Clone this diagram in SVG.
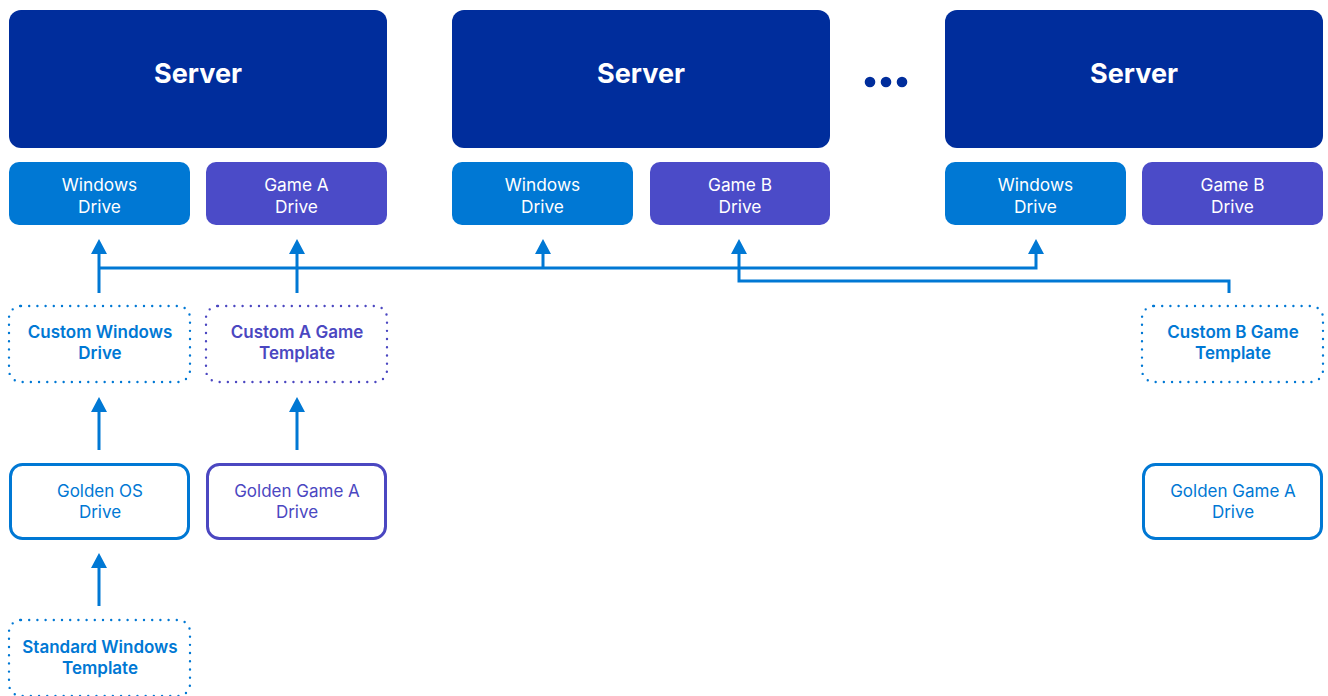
<svg xmlns="http://www.w3.org/2000/svg" width="1328" height="696" viewBox="0 0 1328 696">
<style>
.srv{fill:#002D9C}
.win{fill:#0078D4}
.game{fill:#4B4BC8}
.st{font-family:Inter,"Noto Sans","Liberation Sans",sans-serif;text-anchor:middle}
.srvt{font-size:27px;font-weight:700;fill:#fff}
.drvt{font-size:17.3px;font-weight:400;fill:#fff}
.dotb{fill:none;stroke-width:2.4;stroke-dasharray:0 8.2;stroke-linecap:round}
.solb{fill:#fff;stroke-width:3}
.bl{stroke:#0078D4}
.pu{stroke:#4B47C1}
.tbl{fill:#0078D4}
.tpu{fill:#4B47C1}
.sb{font-size:17px;font-weight:600}
.rg{font-size:17px;font-weight:400}
.con{fill:none;stroke:#0078D4;stroke-width:3}
</style>
<defs>
<polygon id="tri" points="0,0 -8,15 8,15" fill="#0078D4"/>
</defs>

<g id="server1"><rect class="srv" x="9" y="10" width="378" height="138" rx="12"/><text class="st srvt" x="198" y="83">Server</text></g>
<g id="server2"><rect class="srv" x="452" y="10" width="378" height="138" rx="12"/><text class="st srvt" x="641" y="83">Server</text></g>
<g id="server3"><rect class="srv" x="945" y="10" width="378" height="138" rx="12"/><text class="st srvt" x="1134" y="83">Server</text></g>
<g id="ellipsis" fill="#002D9C"><circle cx="870" cy="82" r="5.3"/><circle cx="886" cy="82" r="5.3"/><circle cx="902" cy="82" r="5.3"/></g>

<g id="win1"><rect class="win" x="9" y="162" width="181" height="63" rx="10"/><text class="st drvt" x="99.5" y="191">Windows</text><text class="st drvt" x="99.5" y="213">Drive</text></g>
<g id="gameA"><rect class="game" x="206" y="162" width="181" height="63" rx="10"/><text class="st drvt" x="296.5" y="191">Game A</text><text class="st drvt" x="296.5" y="213">Drive</text></g>
<g id="win2"><rect class="win" x="452" y="162" width="181" height="63" rx="10"/><text class="st drvt" x="542.5" y="191">Windows</text><text class="st drvt" x="542.5" y="213">Drive</text></g>
<g id="gameB1"><rect class="game" x="650" y="162" width="180" height="63" rx="10"/><text class="st drvt" x="740" y="191">Game B</text><text class="st drvt" x="740" y="213">Drive</text></g>
<g id="win3"><rect class="win" x="945" y="162" width="181" height="63" rx="10"/><text class="st drvt" x="1035.5" y="191">Windows</text><text class="st drvt" x="1035.5" y="213">Drive</text></g>
<g id="gameB2"><rect class="game" x="1142" y="162" width="181" height="63" rx="10"/><text class="st drvt" x="1232.5" y="191">Game B</text><text class="st drvt" x="1232.5" y="213">Drive</text></g>

<g id="customWin"><rect class="dotb bl" x="9" y="306" width="181" height="76" rx="12"/><text class="st sb tbl" x="100" y="338">Custom Windows</text><text class="st sb tbl" x="100" y="359">Drive</text></g>
<g id="customA"><rect class="dotb pu" x="206" y="306" width="181" height="76" rx="12"/><text class="st sb tpu" x="297" y="338">Custom A Game</text><text class="st sb tpu" x="297" y="359">Template</text></g>
<g id="customB"><rect class="dotb bl" x="1142" y="306" width="181" height="76" rx="12"/><text class="st sb tbl" x="1233" y="338">Custom B Game</text><text class="st sb tbl" x="1233" y="359">Template</text></g>

<g id="goldenOS"><rect class="solb bl" x="10.5" y="464.5" width="178" height="74" rx="12"/><text class="st rg tbl" x="100" y="497">Golden OS</text><text class="st rg tbl" x="100" y="518">Drive</text></g>
<g id="goldenA"><rect class="solb pu" x="207.5" y="464.5" width="178" height="74" rx="12"/><text class="st rg tpu" x="297" y="497">Golden Game A</text><text class="st rg tpu" x="297" y="518">Drive</text></g>
<g id="goldenA2"><rect class="solb bl" x="1143.5" y="464.5" width="178" height="74" rx="12"/><text class="st rg tbl" x="1233" y="497">Golden Game A</text><text class="st rg tbl" x="1233" y="518">Drive</text></g>

<g id="stdWin"><rect class="dotb bl" x="9" y="620" width="181" height="76" rx="12"/><text class="st sb tbl" x="100" y="653">Standard Windows</text><text class="st sb tbl" x="100" y="674">Template</text></g>

<g id="connectors">
<path class="con" d="M99,293 V252 M99,268 H1036 V252 M543,268 V252 M297,293 V252 M1229,293 V281 H739 V252 M99,450 V410 M297,450 V410 M99,606 V566"/>
<use href="#tri" x="99" y="239"/>
<use href="#tri" x="297" y="239"/>
<use href="#tri" x="543" y="239"/>
<use href="#tri" x="739" y="239"/>
<use href="#tri" x="1036" y="239"/>
<use href="#tri" x="99" y="397"/>
<use href="#tri" x="297" y="397"/>
<use href="#tri" x="99" y="553"/>
</g>
</svg>
